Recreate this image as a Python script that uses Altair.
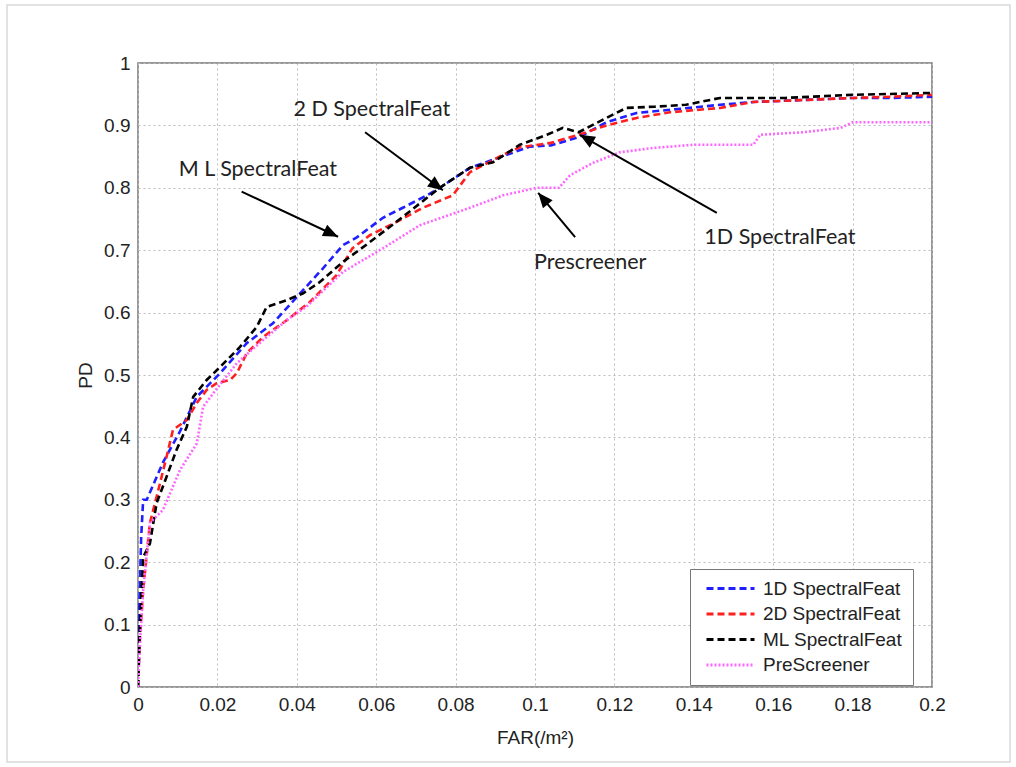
import math
import altair as alt
import pandas as pd

# ---------------- data ----------------
far_1d = [0, 0.0003, 0.0008, 0.0013, 0.0022, 0.0063, 0.0106, 0.0148, 0.0207, 0.0274, 0.034, 0.040,
          0.0466, 0.0516, 0.055, 0.0617, 0.0667, 0.0728, 0.076, 0.0836, 0.0894, 0.0987, 0.104, 0.111,
          0.118, 0.1256, 0.134, 0.1466, 0.155, 0.165, 0.18, 0.19, 0.2]
pd_1d = [0, 0.12, 0.24, 0.30, 0.30, 0.36, 0.41, 0.465, 0.503, 0.551, 0.583, 0.625,
         0.671, 0.708, 0.72, 0.752, 0.768, 0.788, 0.80, 0.832, 0.845, 0.866, 0.868, 0.881,
         0.905, 0.92, 0.925, 0.933, 0.9375, 0.94, 0.944, 0.944, 0.946]

far_2d = [0, 0.0005, 0.0013, 0.003, 0.0047, 0.0072, 0.0088, 0.0123, 0.0148, 0.0173, 0.0198, 0.0232,
          0.0249, 0.0274, 0.0315, 0.0375, 0.0433, 0.05, 0.054, 0.0584, 0.065, 0.0718, 0.0793, 0.0836,
          0.092, 0.0962, 0.104, 0.111, 0.118, 0.1256, 0.134, 0.1466, 0.155, 0.165, 0.18, 0.19, 0.2]
pd_2d = [0, 0.08, 0.155, 0.263, 0.305, 0.369, 0.412, 0.428, 0.455, 0.476, 0.487, 0.492,
         0.503, 0.535, 0.561, 0.588, 0.617, 0.66, 0.703, 0.724, 0.745, 0.768, 0.788, 0.825,
         0.853, 0.865, 0.872, 0.885, 0.90, 0.912, 0.921, 0.928, 0.9375, 0.94, 0.944, 0.946, 0.949]

far_ml = [0, 0.0005, 0.0013, 0.003, 0.0047, 0.0072, 0.0097, 0.0123, 0.0139, 0.0173, 0.0207, 0.0257,
          0.0299, 0.0324, 0.0375, 0.0416, 0.0458, 0.0516, 0.0584, 0.065, 0.0728, 0.076, 0.0836, 0.0894,
          0.0962, 0.103, 0.107, 0.111, 0.118, 0.123, 0.130, 0.138, 0.1466, 0.163, 0.180, 0.2]
pd_ml = [0, 0.10, 0.208, 0.23, 0.295, 0.337, 0.38, 0.417, 0.465, 0.492, 0.513, 0.545,
         0.577, 0.609, 0.62, 0.631, 0.649, 0.681, 0.713, 0.745, 0.784, 0.80, 0.832, 0.841,
         0.869, 0.885, 0.896, 0.889, 0.912, 0.928, 0.930, 0.933, 0.944, 0.944, 0.949, 0.952]

far_pre = [0, 0.0005, 0.0013, 0.003, 0.0063, 0.0106, 0.0148, 0.0164, 0.019, 0.0249, 0.0315, 0.0375,
           0.0425, 0.0516, 0.0617, 0.071, 0.0836, 0.092, 0.1004, 0.106, 0.1088, 0.1146, 0.1214, 0.13,
           0.14, 0.155, 0.1567, 0.1675, 0.177, 0.18, 0.2]
pd_pre = [0, 0.07, 0.155, 0.263, 0.284, 0.348, 0.39, 0.449, 0.471, 0.519, 0.556, 0.588,
          0.61, 0.665, 0.703, 0.74, 0.768, 0.788, 0.80, 0.80, 0.82, 0.84, 0.857, 0.864,
          0.869, 0.869, 0.885, 0.889, 0.896, 0.905, 0.905]

series_names = ["1D SpectralFeat", "2D SpectralFeat", "ML SpectralFeat", "PreScreener"]
series_colors = ["#1f1fff", "#ff1f1f", "#000000", "#ff66ff"]
series_dashes = [[7, 4], [7, 4], [7, 4], [2, 2]]

# annotations: label text, label position, arrow start, arrow tip (data units)
ann_text = ["2 D SpectralFeat", "M L SpectralFeat", "Prescreener", "1D SpectralFeat"]
ann_tx = [0.0589, 0.0302, 0.1139, 0.1617]
ann_ty = [0.925, 0.829, 0.680, 0.720]
arr_x0 = [0.0572, 0.0261, 0.1101, 0.1458]
arr_y0 = [0.889, 0.794, 0.721, 0.760]
arr_x1 = [0.0768, 0.0504, 0.1008, 0.1113]
arr_y1 = [0.796, 0.7216, 0.792, 0.885]

x_ticks = [0, 0.02, 0.04, 0.06, 0.08, 0.1, 0.12, 0.14, 0.16, 0.18, 0.2]
y_ticks = [0, 0.1, 0.2, 0.3, 0.4, 0.5, 0.6, 0.7, 0.8, 0.9, 1]

# ---------------- build tables ----------------
rows = []
for name, xs, ys in zip(series_names, [far_1d, far_2d, far_ml, far_pre], [pd_1d, pd_2d, pd_ml, pd_pre]):
    for i, (a, b) in enumerate(zip(xs, ys)):
        rows.append({"series": name, "far": a, "pd": b, "i": i})
curves = pd.DataFrame(rows)

W, H = 794, 624
sx, sy = W / 0.2, H / 1.0
angles = []
for x0, y0, x1, y1 in zip(arr_x0, arr_y0, arr_x1, arr_y1):
    dx = (x1 - x0) * sx
    dy = -(y1 - y0) * sy
    angles.append(math.degrees(math.atan2(dx, -dy)) % 360)

ann = pd.DataFrame({"text": ann_text, "tx": ann_tx, "ty": ann_ty,
                    "x0": arr_x0, "y0": arr_y0, "x1": arr_x1, "y1": arr_y1, "angle": angles})

FONT = "Liberation Sans"

xscale = alt.Scale(domain=[0, 0.2], nice=False, zero=False)
yscale = alt.Scale(domain=[0, 1], nice=False)

legend = alt.Legend(
    title=None, orient="none", legendX=552, legendY=506,
    fillColor="white", strokeColor="#777777", padding=10,
    symbolType="M-3,0L3,0", symbolSize=256, symbolStrokeWidth=3,
    labelFont=FONT, labelFontSize=19, labelColor="#222222",
    rowPadding=5.5, labelOffset=23, symbolOffset=21,
)

base = alt.Chart(curves)
lines = base.mark_line(strokeWidth=2.6, clip=True).encode(
    x=alt.X("far:Q", scale=xscale,
            axis=alt.Axis(values=x_ticks, format="~g", title="FAR(/m²)", grid=True)),
    y=alt.Y("pd:Q", scale=yscale,
            axis=alt.Axis(values=y_ticks, format="~g", title="PD", grid=True)),
    color=alt.Color("series:N", scale=alt.Scale(domain=series_names, range=series_colors), legend=legend),
    strokeDash=alt.StrokeDash("series:N", scale=alt.Scale(domain=series_names, range=series_dashes), legend=legend),
    order=alt.Order("i:Q"),
)

ann_base = alt.Chart(ann)
shafts = ann_base.mark_rule(color="black", strokeWidth=2).encode(
    x=alt.X("x0:Q", scale=xscale), y=alt.Y("y0:Q", scale=yscale),
    x2="x1:Q", y2="y1:Q",
)
heads = ann_base.mark_point(
    shape="M0,0 L0.42,1 L-0.42,1 Z", filled=True, color="black", opacity=1, size=900,
).encode(
    x=alt.X("x1:Q", scale=xscale), y=alt.Y("y1:Q", scale=yscale),
    angle=alt.Angle("angle:Q", scale=None),
)
labels = ann_base.mark_text(font="Lato", fontSize=21.5, color="#222222").encode(
    x=alt.X("tx:Q", scale=xscale), y=alt.Y("ty:Q", scale=yscale), text="text:N",
)

frame = alt.Chart(pd.DataFrame({"k": [0]})).mark_rect(
    fill=None, stroke="#d9d9d9", strokeWidth=1.5
).encode(
    x=alt.value(7 - 138), x2=alt.value(1010 - 138),
    y=alt.value(5 - 63), y2=alt.value(762 - 63),
)

chart = alt.layer(frame, lines, shafts, heads, labels).resolve_scale(
    color="shared", strokeDash="shared"
).properties(
    width=W, height=H,
    autosize=alt.AutoSizeParams(type="none"),
    padding={"left": 138, "top": 63, "right": 84, "bottom": 80},
    background="white",
).configure_view(
    stroke="#777777", strokeWidth=1.5
).configure_axis(
    labelFont=FONT, labelFontSize=19, labelColor="#222222",
    titleFont=FONT, titleFontSize=19, titleColor="#222222", titleFontWeight="normal",
    gridColor="#bdbdbd", gridDash=[2, 3], gridWidth=1,
    domain=False, ticks=False, labelPadding=8,
).configure_axisX(
    titlePadding=14, labelFlush=False,
).configure_axisY(
    titlePadding=8,
)

chart.save("out.html", embed_options={"renderer": "svg", "actions": False})
